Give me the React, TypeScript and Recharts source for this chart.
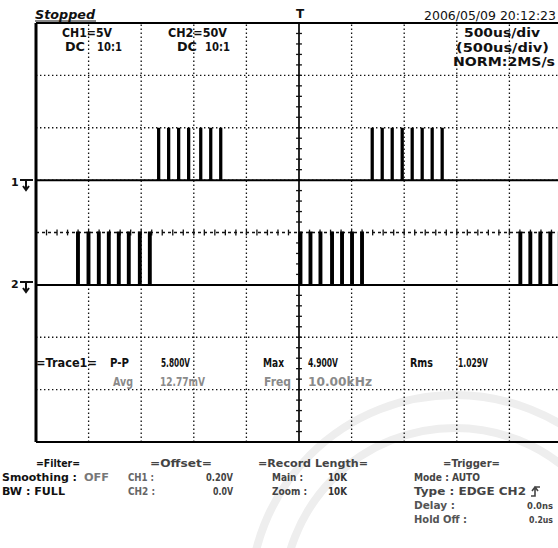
import React from 'react';
import { LineChart, Line, XAxis, YAxis, ReferenceLine } from 'recharts';

// time axis: 500us/div, 10 divisions, trigger at centre
const timeDomainUs: [number, number] = [-2500, 2500];
const timeGridUs = [-2000, -1500, -1000, -500, 500, 1000, 1500, 2000];
const levelDomainDiv: [number, number] = [-4, 4];
const levelGridDiv = [-3, -2, -1, 1, 2, 3];

// pulse rising edges (us)
const ch1PulseStartsUs = [-1340, -1245, -1150, -1055, -940, -845, -750, 690, 785, 880, 975, 1070, 1165, 1260, 1355];
const ch2PulseStartsUs = [
  -2110, -2010, -1912, -1817, -1722, -1627, -1522, -1427,
  5, 100, 195, 305, 400, 495, 590,
  2095, 2190, 2285, 2380, 2470,
];
const ch1PulseWidthUs = 12;
const ch2PulseWidthUs = 18;

// channel settings: [low, high] in volts
const ch1LevelsV = [0, 4.9];
const ch2LevelsV = [0, 50];
const ch1VoltsPerDiv = 5;
const ch2VoltsPerDiv = 50;
const ch1GroundDiv = 1;
const ch2GroundDiv = -1;

type Pt = { t: number; y: number };

const buildTrace = (starts: number[], width: number, levels: number[], vPerDiv: number, ground: number): Pt[] => {
  const lo = ground + levels[0] / vPerDiv;
  const hi = ground + levels[1] / vPerDiv;
  const pts: Pt[] = [{ t: timeDomainUs[0], y: lo }];
  starts.forEach((s) => {
    pts.push({ t: s, y: lo }, { t: s, y: hi }, { t: s + width, y: hi }, { t: s + width, y: lo });
  });
  pts.push({ t: timeDomainUs[1], y: lo });
  return pts;
};

const ch1Trace = buildTrace(ch1PulseStartsUs, ch1PulseWidthUs, ch1LevelsV, ch1VoltsPerDiv, ch1GroundDiv);
const ch2Trace = buildTrace(ch2PulseStartsUs, ch2PulseWidthUs, ch2LevelsV, ch2VoltsPerDiv, ch2GroundDiv);

// minor ticks on the centre axes (1/5 div)
const minorTicksT = Array.from({ length: 49 }, (_, i) => -2400 + i * 100).filter((t) => t !== 0);
const minorTicksY = Array.from({ length: 39 }, (_, i) => -3.8 + i * 0.2).filter((y) => Math.abs(y) > 0.01);

const FONT = "'DejaVu Sans', sans-serif";

type Label = { text: string; x: number; y: number; w?: number; color?: string; size?: number; italic?: boolean };

const screenLabels: Label[] = [
  { text: 'CH1=5V', x: 62, y: 37, w: 50, size: 12 },
  { text: 'DC', x: 65, y: 51, w: 20, size: 12 },
  { text: '10:1', x: 97, y: 51, w: 25, size: 12 },
  { text: 'CH2=50V', x: 168, y: 37, w: 59, size: 12 },
  { text: 'DC', x: 177, y: 51, w: 20, size: 12 },
  { text: '10:1', x: 205, y: 51, w: 25, size: 12 },
  { text: '500us/div', x: 464, y: 37, w: 76, size: 12 },
  { text: '(500us/div)', x: 456, y: 52, w: 93, size: 12 },
  { text: 'NORM:2MS/s', x: 453, y: 66, w: 102, size: 12 },
  { text: '=Trace1=', x: 36, y: 367, w: 61, size: 12 },
  { text: 'P-P', x: 110, y: 367, w: 19, size: 12 },
  { text: '5.800V', x: 161, y: 367, w: 29, size: 12 },
  { text: 'Max', x: 263, y: 367, w: 21, size: 12 },
  { text: '4.900V', x: 308, y: 367, w: 30, size: 12 },
  { text: 'Rms', x: 410, y: 367, w: 23, size: 12 },
  { text: '1.029V', x: 458, y: 367, w: 30, size: 12 },
  { text: 'Avg', x: 113, y: 386, w: 20, color: '#8a8a8a', size: 12 },
  { text: '12.77mV', x: 160, y: 386, w: 45, color: '#8a8a8a', size: 12 },
  { text: 'Freq', x: 264, y: 386, w: 27, color: '#8a8a8a', size: 12 },
  { text: '10.00kHz', x: 308, y: 386, w: 64, color: '#8a8a8a', size: 12 },
];

const panelLabels: Label[] = [
  { text: '=Filter=', x: 36, y: 467, w: 44 },
  { text: 'Smoothing :', x: 2, y: 481, w: 75 },
  { text: 'OFF', x: 84, y: 481, w: 25, color: '#777' },
  { text: 'BW : FULL', x: 2, y: 495, w: 63 },
  { text: '=Offset=', x: 150, y: 467, w: 62, color: '#444' },
  { text: 'CH1 :', x: 128, y: 481, w: 26, color: '#666' },
  { text: '0.20V', x: 206, y: 481, w: 27, color: '#444' },
  { text: 'CH2 :', x: 128, y: 495, w: 27, color: '#666' },
  { text: '0.0V', x: 213, y: 495, w: 20, color: '#444' },
  { text: '=Record Length=', x: 258, y: 467, w: 110, color: '#444' },
  { text: 'Main :', x: 272, y: 481, w: 31, color: '#444' },
  { text: '10K', x: 328, y: 481, w: 19, color: '#333' },
  { text: 'Zoom :', x: 272, y: 495, w: 35, color: '#444' },
  { text: '10K', x: 328, y: 495, w: 19, color: '#333' },
  { text: '=Trigger=', x: 443, y: 467, w: 57, color: '#444' },
  { text: 'Mode : AUTO', x: 414, y: 481, w: 66, color: '#444' },
  { text: 'Type : EDGE CH2', x: 414, y: 495, w: 112, color: '#444' },
  { text: 'Delay :', x: 414, y: 509, w: 41, color: '#555' },
  { text: '0.0ns', x: 527, y: 509, w: 26, color: '#444', size: 9.5 },
  { text: 'Hold Off :', x: 414, y: 523, w: 53, color: '#555' },
  { text: '0.2us', x: 529, y: 523, w: 24, color: '#444', size: 9.5 },
];

const renderLabel = (l: Label, i: number) => (
  <text
    key={i}
    x={l.x}
    y={l.y}
    fill={l.color || '#111'}
    fontFamily={FONT}
    fontWeight="bold"
    fontSize={l.size || 11}
    fontStyle={l.italic ? 'italic' : 'normal'}
    textLength={l.w}
    lengthAdjust="spacingAndGlyphs"
  >
    {l.text}
  </text>
);

const GroundMarker = ({ label, y }: { label: string; y: number }) => (
  <g>
    <text x={11} y={y + 6} fontFamily={FONT} fontWeight="bold" fontSize={11} fill="#111">
      {label}
    </text>
    <path d={`M20 ${y} H33 M26 ${y} V${y + 9} M23 ${y + 6} L26 ${y + 10} L29 ${y + 6}`} stroke="#111" strokeWidth={2} fill="none" />
  </g>
);

export default function App() {
  return (
    <div style={{ position: 'absolute', left: 0, top: 0, width: 558, height: 548, overflow: 'hidden', background: '#fff' }}>
      <svg width={558} height={548} style={{ position: 'absolute', left: 0, top: 0 }}>
        {/* faint watermark */}
        <g fill="none" stroke="#eeeeee" strokeWidth={8}>
          <circle cx={455} cy={600} r={205} />
          <circle cx={455} cy={600} r={172} />
        </g>
      </svg>
      <div style={{ position: 'absolute', left: 0, top: 0 }}>
        <LineChart width={572} height={548} margin={{ top: 23, right: 10, bottom: 106, left: 36 }}>
          <XAxis type="number" dataKey="t" domain={timeDomainUs} allowDataOverflow hide />
          <YAxis type="number" domain={levelDomainDiv} allowDataOverflow hide />
          {timeGridUs.map((t) => (
            <ReferenceLine key={`vx${t}`} x={t} stroke="#111" strokeWidth={1.3} strokeDasharray="1.4 2.6" />
          ))}
          {levelGridDiv.map((y) => (
            <ReferenceLine key={`hy${y}`} y={y} stroke="#111" strokeWidth={1.3} strokeDasharray="1.4 2.6" />
          ))}
          <ReferenceLine y={0} stroke="#111" strokeWidth={1.3} strokeDasharray="3 3" />
          <ReferenceLine x={0} stroke="#111" strokeWidth={1.8} />
          {minorTicksT.map((t) => (
            <ReferenceLine key={`mt${t}`} segment={[{ x: t, y: -0.055 }, { x: t, y: 0.055 }]} stroke="#111" strokeWidth={1.3} />
          ))}
          {minorTicksY.map((y) => (
            <ReferenceLine key={`my${y.toFixed(1)}`} segment={[{ x: -28, y }, { x: 28, y }]} stroke="#111" strokeWidth={1.3} />
          ))}
          <Line data={ch1Trace} dataKey="y" type="linear" stroke="#000" strokeWidth={2} dot={false} isAnimationActive={false} />
          <Line data={ch2Trace} dataKey="y" type="linear" stroke="#000" strokeWidth={2} dot={false} isAnimationActive={false} />
          <ReferenceLine x={timeDomainUs[0]} stroke="#000" strokeWidth={3} />
          <ReferenceLine y={levelDomainDiv[1]} stroke="#000" strokeWidth={2} />
          <ReferenceLine y={levelDomainDiv[0]} stroke="#000" strokeWidth={2} />
        </LineChart>
      </div>
      <svg width={558} height={548} style={{ position: 'absolute', left: 0, top: 0 }}>
        {renderLabel({ text: 'Stopped', x: 35, y: 19, w: 60, size: 12, italic: true }, 0)}
        <line x1={35} y1={21} x2={96} y2={21} stroke="#111" strokeWidth={1.2} />
        <text x={424} y={20} fontFamily={FONT} fontSize={12} fill="#111" textLength={132} lengthAdjust="spacingAndGlyphs">
          2006/05/09 20:12:23
        </text>
        <text x={296} y={18} fontFamily={FONT} fontWeight="bold" fontSize={12} fill="#111">
          T
        </text>
        {screenLabels.map(renderLabel)}
        {panelLabels.map(renderLabel)}
        <GroundMarker label="1" y={180} />
        <GroundMarker label="2" y={282} />
        {/* rising edge trigger icon */}
        <path d="M531 496 H535 V487 H540 M532 491 L535 487 L538 491" stroke="#444" strokeWidth={1.6} fill="none" />
      </svg>
    </div>
  );
}
